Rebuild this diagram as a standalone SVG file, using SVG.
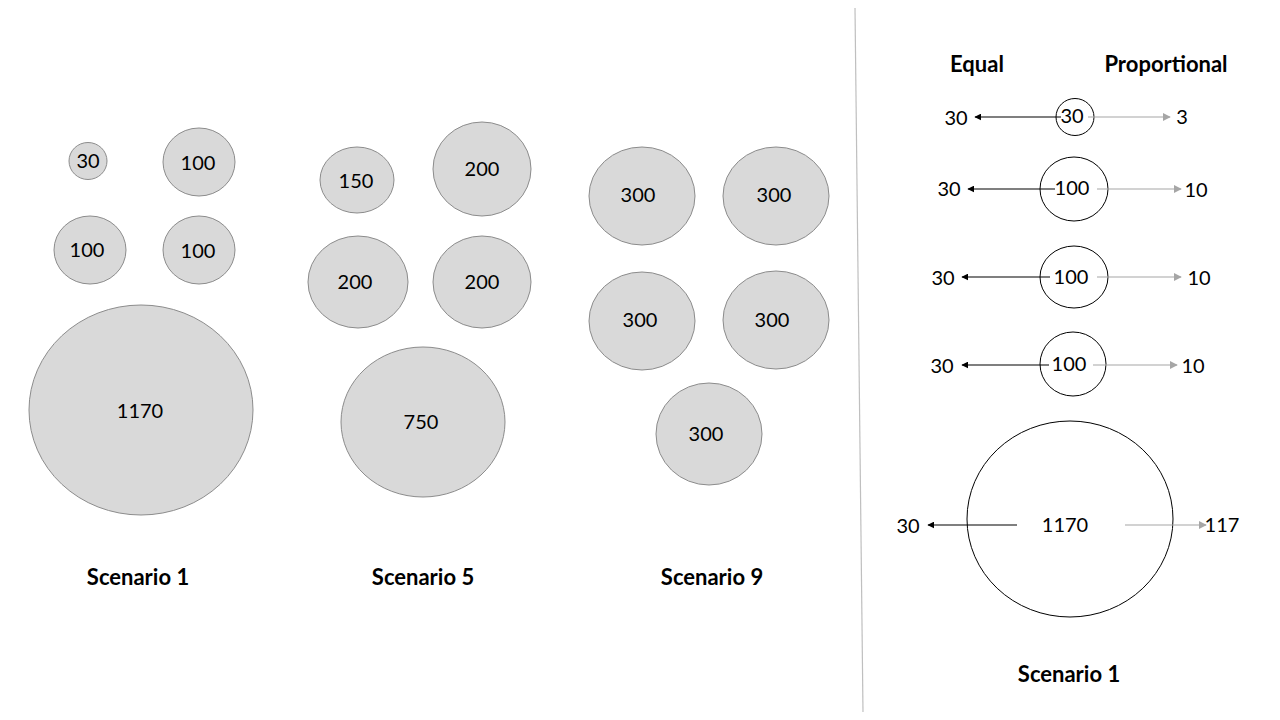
<svg xmlns="http://www.w3.org/2000/svg" width="1280" height="720" viewBox="0 0 1280 720">
<style>
text{font-family:Lato,"Open Sans","Liberation Sans",sans-serif;fill:#000;text-anchor:middle;dominant-baseline:central}
.n{font-size:20px}
.b{font-size:22px;font-weight:bold}
.g{fill:#d9d9d9;stroke:#8c8c8c;stroke-width:1}
.w{fill:none;stroke:#000;stroke-width:1}
.ae{stroke:#000;stroke-width:1.2;fill:none}
.ap{stroke:#a6a6a6;stroke-width:1.2;fill:none}
</style>
<defs>
<marker id="mb" viewBox="0 0 10 10" refX="9" refY="5" markerWidth="7" markerHeight="7" markerUnits="userSpaceOnUse" orient="auto"><path d="M0,0L10,5L0,10z" fill="#000"/></marker>
<marker id="mg" viewBox="0 0 10 10" refX="9" refY="5" markerWidth="8" markerHeight="8" markerUnits="userSpaceOnUse" orient="auto"><path d="M0,0L10,5L0,10z" fill="#a6a6a6"/></marker>
</defs>
<rect width="1280" height="720" fill="#fff"/>
<line x1="855" y1="8" x2="863" y2="712" stroke="#bfbfbf" stroke-width="1.2"/>

<g id="s1">
<g id="s1-30"><ellipse class="g" cx="88" cy="161" rx="19" ry="18.5"/><text class="n" x="88" y="160">30</text></g>
<g id="s1-100a"><ellipse class="g" cx="199" cy="162" rx="36" ry="34"/><text class="n" x="198" y="162">100</text></g>
<g id="s1-100b"><ellipse class="g" cx="90" cy="250" rx="36" ry="34"/><text class="n" x="87" y="249">100</text></g>
<g id="s1-100c"><ellipse class="g" cx="199" cy="250" rx="36" ry="34"/><text class="n" x="198" y="250">100</text></g>
<g id="s1-1170"><ellipse class="g" cx="141" cy="410" rx="112" ry="105"/><text class="n" x="140" y="410">1170</text></g>
<text class="b" x="138" y="576">Scenario 1</text>
</g>

<g id="s5">
<g id="s5-150"><ellipse class="g" cx="357" cy="180" rx="37" ry="33"/><text class="n" x="356" y="180">150</text></g>
<g id="s5-200a"><ellipse class="g" cx="482" cy="169" rx="49" ry="47"/><text class="n" x="482" y="168">200</text></g>
<g id="s5-200b"><ellipse class="g" cx="358" cy="282" rx="50" ry="46"/><text class="n" x="355" y="281">200</text></g>
<g id="s5-200c"><ellipse class="g" cx="482" cy="282" rx="49" ry="46"/><text class="n" x="482" y="281">200</text></g>
<g id="s5-750"><ellipse class="g" cx="423" cy="422" rx="82" ry="75"/><text class="n" x="421" y="421">750</text></g>
<text class="b" x="423" y="576">Scenario 5</text>
</g>

<g id="s9">
<g id="s9-a"><ellipse class="g" cx="642" cy="196" rx="53" ry="49"/><text class="n" x="638" y="194">300</text></g>
<g id="s9-b"><ellipse class="g" cx="776" cy="196" rx="53" ry="49"/><text class="n" x="774" y="194">300</text></g>
<g id="s9-c"><ellipse class="g" cx="642" cy="321" rx="53" ry="49"/><text class="n" x="640" y="319">300</text></g>
<g id="s9-d"><ellipse class="g" cx="776" cy="320" rx="53" ry="49"/><text class="n" x="772" y="319">300</text></g>
<g id="s9-e"><ellipse class="g" cx="709" cy="434" rx="53" ry="51"/><text class="n" x="706" y="433">300</text></g>
<text class="b" x="712" y="576">Scenario 9</text>
</g>

<g id="legend">
<text class="b" x="977" y="63">Equal</text>
<text class="b" x="1166" y="63">Proportional</text>
<text class="b" x="1069" y="673">Scenario 1</text>
</g>

<g id="r1"><ellipse class="w" cx="1075" cy="117" rx="19" ry="18.5"/><text class="n" x="1072" y="115">30</text><text class="n" x="956" y="117">30</text><text class="n" x="1182" y="116">3</text></g>
<g id="r2"><ellipse class="w" cx="1074" cy="189" rx="34" ry="32"/><text class="n" x="1072" y="187">100</text><text class="n" x="949" y="188">30</text><text class="n" x="1196" y="189">10</text></g>
<g id="r3"><ellipse class="w" cx="1074" cy="277" rx="34" ry="31"/><text class="n" x="1071" y="276">100</text><text class="n" x="943" y="277">30</text><text class="n" x="1199" y="277">10</text></g>
<g id="r4"><ellipse class="w" cx="1073" cy="364" rx="33" ry="32"/><text class="n" x="1069" y="363">100</text><text class="n" x="942" y="365">30</text><text class="n" x="1193" y="365">10</text></g>
<g id="r5"><ellipse class="w" cx="1070" cy="519" rx="103" ry="98"/><text class="n" x="1065" y="524">1170</text><text class="n" x="908" y="525">30</text><text class="n" x="1222" y="524">117</text></g>

<g id="connectors">
<line class="ae" x1="1061" y1="117" x2="975" y2="117" marker-end="url(#mb)"/>
<line class="ap" x1="1088" y1="117" x2="1170" y2="117" marker-end="url(#mg)"/>
<line class="ae" x1="1055" y1="189" x2="968" y2="189" marker-end="url(#mb)"/>
<line class="ap" x1="1097" y1="189" x2="1181" y2="189" marker-end="url(#mg)"/>
<line class="ae" x1="1050" y1="277" x2="962" y2="277" marker-end="url(#mb)"/>
<line class="ap" x1="1097" y1="277" x2="1181" y2="277" marker-end="url(#mg)"/>
<line class="ae" x1="1049" y1="365" x2="962" y2="365" marker-end="url(#mb)"/>
<line class="ap" x1="1093" y1="365" x2="1177" y2="365" marker-end="url(#mg)"/>
<line class="ae" x1="1017" y1="525" x2="928" y2="525" marker-end="url(#mb)"/>
<line class="ap" x1="1125" y1="525" x2="1206" y2="525" marker-end="url(#mg)"/>
</g>
</svg>
